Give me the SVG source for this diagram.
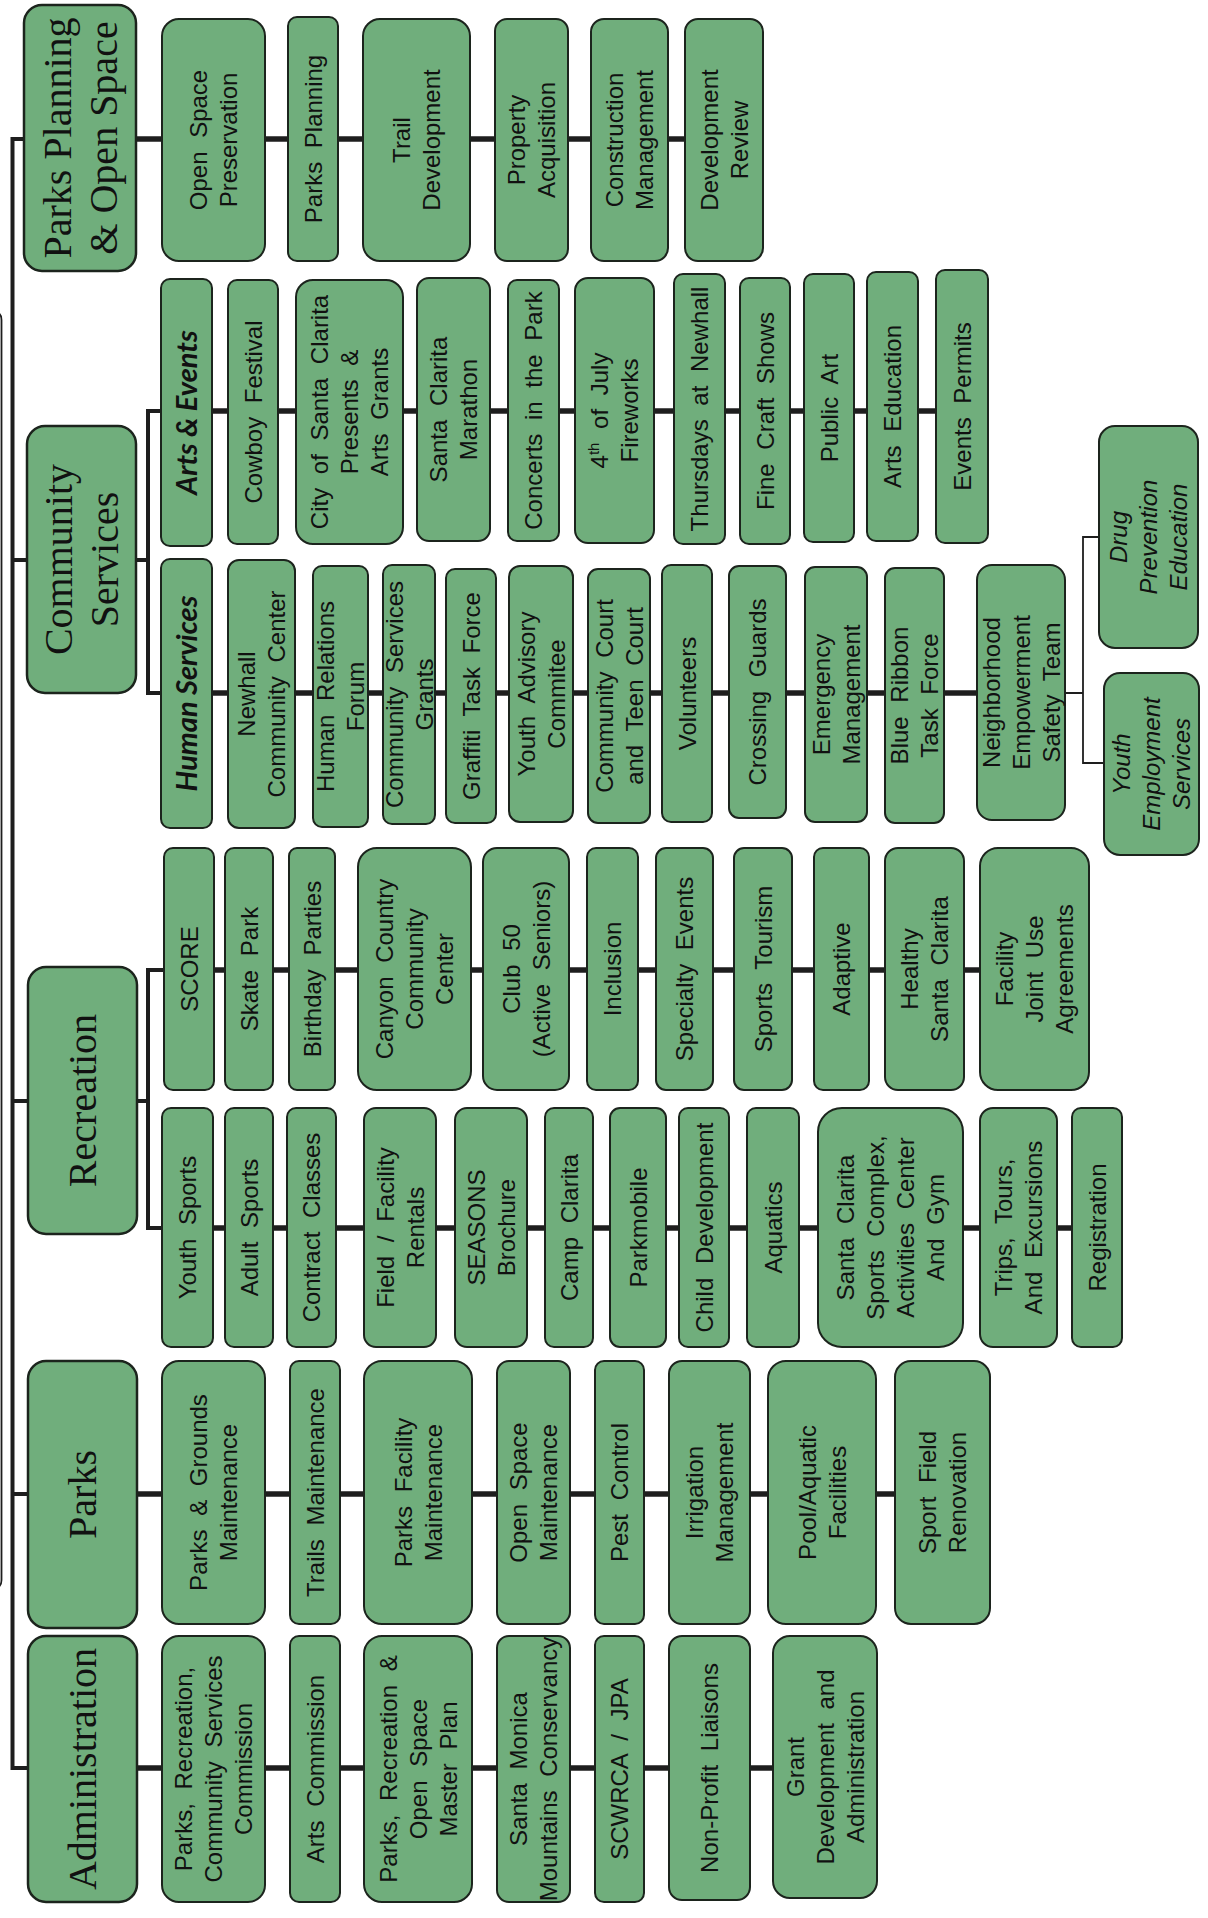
<svg xmlns="http://www.w3.org/2000/svg" width="1208" height="1918" viewBox="0 0 1208 1918">
<style>
.b{fill:#70ae7c;stroke:#1c241d;stroke-width:2}
.B{fill:#70ae7c;stroke:#1c241d;stroke-width:2.5}
.t{font-family:"Liberation Sans",Arial,sans-serif;font-size:24px;fill:#111;text-anchor:middle;word-spacing:7px}
.i{font-style:italic}
.h{font-family:"Liberation Serif","Times New Roman",serif;font-size:40px;fill:#111;text-anchor:middle}
.s{font-family:Lato,"Open Sans",sans-serif;font-style:italic;font-weight:700;font-size:29px;fill:#111;text-anchor:middle}
.c{fill:none;stroke:#1e1e1e;stroke-width:5.5}
.k{fill:none;stroke:#1e1e1e;stroke-width:4}
.n{fill:none;stroke:#1e1e1e;stroke-width:1.8}
</style>
<rect width="1208" height="1918" fill="#ffffff"/>
<path class="n" d="M -6 312 Q 1.5 312 1.5 320 L 1.5 1580 Q 1.5 1588 -6 1588"/>
<g id="connectors">
<path class="k" d="M 26 139 H 12.5 V 1768 H 28"/>
<path class="k" d="M 12.5 560 H 27 M 12.5 1101 H 28 M 12.5 1494 H 28"/>
<path class="k" d="M 136 560 H 148 M 161 411 H 148 V 693 H 161"/>
<path class="k" d="M 137 1101 H 148 M 164 970 H 148 V 1228 H 162"/>
<path class="c" d="M 136 139 H 685"/>
<path class="c" d="M 212 411 H 936"/>
<path class="c" d="M 212 693 H 977"/>
<path class="c" d="M 214 970 H 980"/>
<path class="c" d="M 213 1228 H 1072"/>
<path class="c" d="M 137 1494 H 895"/>
<path class="c" d="M 137 1768 H 773"/>
<path class="n" d="M 1065 693 H 1083 M 1099 537 H 1083 V 763 H 1104"/>
</g>

<!-- Parks Planning & Open Space -->
<g id="pp"><rect class="B" x="24" y="5" width="112" height="266" rx="18"/><text class="h" transform="translate(80 138) rotate(-90)"><tspan x="0" y="-9.5">Parks Planning</tspan><tspan x="0" y="36.5">&amp; Open Space</tspan></text></g>
<g id="pp1"><rect class="b" x="162" y="19" width="103" height="242" rx="17"/><text class="t" transform="translate(213.5 140) rotate(-90)"><tspan x="0" y="-6.5">Open Space</tspan><tspan x="0" y="23.5">Preservation</tspan></text></g>
<g id="pp2"><rect class="b" x="288" y="17" width="50" height="244" rx="9"/><text class="t" transform="translate(313 139) rotate(-90)"><tspan x="0" y="8.5">Parks Planning</tspan></text></g>
<g id="pp3"><rect class="b" x="363" y="19" width="107" height="242" rx="17"/><text class="t" transform="translate(416.5 140) rotate(-90)"><tspan x="0" y="-6.5">Trail</tspan><tspan x="0" y="23.5">Development</tspan></text></g>
<g id="pp4"><rect class="b" x="495" y="19" width="73" height="242" rx="12"/><text class="t" transform="translate(531.5 140) rotate(-90)"><tspan x="0" y="-6.5">Property</tspan><tspan x="0" y="23.5">Acquisition</tspan></text></g>
<g id="pp5"><rect class="b" x="591" y="19" width="77" height="242" rx="13"/><text class="t" transform="translate(629.5 140) rotate(-90)"><tspan x="0" y="-6.5">Construction</tspan><tspan x="0" y="23.5">Management</tspan></text></g>
<g id="pp6"><rect class="b" x="685" y="19" width="78" height="242" rx="13"/><text class="t" transform="translate(724 140) rotate(-90)"><tspan x="0" y="-6.5">Development</tspan><tspan x="0" y="23.5">Review</tspan></text></g>

<!-- Community Services -->
<g id="cs"><rect class="B" x="27" y="426" width="109" height="267" rx="18"/><text class="h" transform="translate(81.5 559.5) rotate(-90)"><tspan x="0" y="-9.5">Community</tspan><tspan x="0" y="36.5">Services</tspan></text></g>
<g id="ae"><rect class="b" x="161" y="279" width="51" height="267" rx="9"/><text class="s" transform="translate(186.5 412.5) rotate(-90)"><tspan x="0" y="10.5">Arts &amp; Events</tspan></text></g>
<g id="ae1"><rect class="b" x="228" y="280" width="50" height="264" rx="9"/><text class="t" transform="translate(253 412) rotate(-90)"><tspan x="0" y="8.5">Cowboy Festival</tspan></text></g>
<g id="ae2"><rect class="b" x="296" y="280" width="107" height="264" rx="17"/><text class="t" transform="translate(349.5 412) rotate(-90)"><tspan x="0" y="-21.5">City of Santa Clarita</tspan><tspan x="0" y="8.5">Presents &amp;</tspan><tspan x="0" y="38.5">Arts Grants</tspan></text></g>
<g id="ae3"><rect class="b" x="417" y="278" width="73" height="263" rx="12"/><text class="t" transform="translate(453.5 409.5) rotate(-90)"><tspan x="0" y="-6.5">Santa Clarita</tspan><tspan x="0" y="23.5">Marathon</tspan></text></g>
<g id="ae4"><rect class="b" x="508" y="280" width="51" height="261" rx="9"/><text class="t" transform="translate(533.5 410.5) rotate(-90)"><tspan x="0" y="8.5">Concerts in the Park</tspan></text></g>
<g id="ae5"><rect class="b" x="575" y="278" width="79" height="265" rx="13"/><text class="t" transform="translate(614.5 410.5) rotate(-90)"><tspan x="0" y="-6.5">4<tspan dy="-9" font-size="15">th</tspan><tspan dy="9"> of July</tspan></tspan><tspan x="0" y="23.5">Fireworks</tspan></text></g>
<g id="ae6"><rect class="b" x="674" y="274" width="51" height="270" rx="9"/><text class="t" transform="translate(699.5 409) rotate(-90)"><tspan x="0" y="8.5">Thursdays at Newhall</tspan></text></g>
<g id="ae7"><rect class="b" x="740" y="278" width="50" height="266" rx="9"/><text class="t" transform="translate(765 411) rotate(-90)"><tspan x="0" y="8.5">Fine Craft Shows</tspan></text></g>
<g id="ae8"><rect class="b" x="804" y="274" width="50" height="268" rx="9"/><text class="t" transform="translate(829 408) rotate(-90)"><tspan x="0" y="8.5">Public Art</tspan></text></g>
<g id="ae9"><rect class="b" x="867" y="272" width="51" height="269" rx="9"/><text class="t" transform="translate(892.5 406.5) rotate(-90)"><tspan x="0" y="8.5">Arts Education</tspan></text></g>
<g id="ae10"><rect class="b" x="936" y="270" width="52" height="273" rx="9"/><text class="t" transform="translate(962 406.5) rotate(-90)"><tspan x="0" y="8.5">Events Permits</tspan></text></g>

<g id="hs"><rect class="b" x="161" y="559" width="51" height="269" rx="9"/><text class="s" transform="translate(186.5 693.5) rotate(-90)"><tspan x="0" y="10.5">Human Services</tspan></text></g>
<g id="hs1"><rect class="b" x="228" y="560" width="67" height="268" rx="11"/><text class="t" transform="translate(261.5 694) rotate(-90)"><tspan x="0" y="-6.5">Newhall</tspan><tspan x="0" y="23.5">Community Center</tspan></text></g>
<g id="hs2"><rect class="b" x="313" y="566" width="55" height="261" rx="9"/><text class="t" transform="translate(340.5 696.5) rotate(-90)"><tspan x="0" y="-6.5">Human Relations</tspan><tspan x="0" y="23.5">Forum</tspan></text></g>
<g id="hs3"><rect class="b" x="383" y="565" width="52" height="259" rx="9"/><text class="t" transform="translate(409 694.5) rotate(-90)"><tspan x="0" y="-6.5">Community Services</tspan><tspan x="0" y="23.5">Grants</tspan></text></g>
<g id="hs4"><rect class="b" x="446" y="569" width="50" height="254" rx="9"/><text class="t" transform="translate(471 696) rotate(-90)"><tspan x="0" y="8.5">Graffiti Task Force</tspan></text></g>
<g id="hs5"><rect class="b" x="509" y="566" width="64" height="256" rx="11"/><text class="t" transform="translate(541 694) rotate(-90)"><tspan x="0" y="-6.5">Youth Advisory</tspan><tspan x="0" y="23.5">Commitee</tspan></text></g>
<g id="hs6"><rect class="b" x="588" y="569" width="62" height="254" rx="10"/><text class="t" transform="translate(619 696) rotate(-90)"><tspan x="0" y="-6.5">Community Court</tspan><tspan x="0" y="23.5">and Teen Court</tspan></text></g>
<g id="hs7"><rect class="b" x="662" y="565" width="50" height="257" rx="9"/><text class="t" transform="translate(687 693.5) rotate(-90)"><tspan x="0" y="8.5">Volunteers</tspan></text></g>
<g id="hs8"><rect class="b" x="729" y="566" width="57" height="252" rx="10"/><text class="t" transform="translate(757.5 692) rotate(-90)"><tspan x="0" y="8.5">Crossing Guards</tspan></text></g>
<g id="hs9"><rect class="b" x="805" y="567" width="62" height="255" rx="10"/><text class="t" transform="translate(836 694.5) rotate(-90)"><tspan x="0" y="-6.5">Emergency</tspan><tspan x="0" y="23.5">Management</tspan></text></g>
<g id="hs10"><rect class="b" x="885" y="568" width="59" height="255" rx="10"/><text class="t" transform="translate(914.5 695.5) rotate(-90)"><tspan x="0" y="-6.5">Blue Ribbon</tspan><tspan x="0" y="23.5">Task Force</tspan></text></g>
<g id="hs11"><rect class="b" x="977" y="565" width="88" height="255" rx="15"/><text class="t" transform="translate(1021 692.5) rotate(-90)"><tspan x="0" y="-21.5">Neighborhood</tspan><tspan x="0" y="8.5">Empowerment</tspan><tspan x="0" y="38.5">Safety Team</tspan></text></g>
<g id="hs12"><rect class="b" x="1099" y="426" width="99" height="222" rx="16"/><text class="t i" transform="translate(1148.5 537) rotate(-90)"><tspan x="0" y="-21.5">Drug</tspan><tspan x="0" y="8.5">Prevention</tspan><tspan x="0" y="38.5">Education</tspan></text></g>
<g id="hs13"><rect class="b" x="1104" y="673" width="95" height="182" rx="16"/><text class="t i" transform="translate(1151.5 764) rotate(-90)"><tspan x="0" y="-21.5">Youth</tspan><tspan x="0" y="8.5">Employment</tspan><tspan x="0" y="38.5">Services</tspan></text></g>

<!-- Recreation -->
<g id="rec"><rect class="B" x="28" y="967" width="109" height="267" rx="18"/><text class="h" transform="translate(82.5 1100.5) rotate(-90)"><tspan x="0" y="13">Recreation</tspan></text></g>
<g id="r1"><rect class="b" x="164" y="848" width="50" height="242" rx="9"/><text class="t" transform="translate(189 969) rotate(-90)"><tspan x="0" y="8.5">SCORE</tspan></text></g>
<g id="r2"><rect class="b" x="225" y="848" width="48" height="242" rx="9"/><text class="t" transform="translate(249 969) rotate(-90)"><tspan x="0" y="8.5">Skate Park</tspan></text></g>
<g id="r3"><rect class="b" x="289" y="848" width="46" height="242" rx="8"/><text class="t" transform="translate(312 969) rotate(-90)"><tspan x="0" y="8.5">Birthday Parties</tspan></text></g>
<g id="r4"><rect class="b" x="358" y="848" width="113" height="242" rx="19"/><text class="t" transform="translate(414.5 969) rotate(-90)"><tspan x="0" y="-21.5">Canyon Country</tspan><tspan x="0" y="8.5">Community</tspan><tspan x="0" y="38.5">Center</tspan></text></g>
<g id="r5"><rect class="b" x="483" y="848" width="86" height="242" rx="14"/><text class="t" transform="translate(526 969) rotate(-90)"><tspan x="0" y="-6.5">Club 50</tspan><tspan x="0" y="23.5">(Active Seniors)</tspan></text></g>
<g id="r6"><rect class="b" x="587" y="848" width="51" height="242" rx="9"/><text class="t" transform="translate(612.5 969) rotate(-90)"><tspan x="0" y="8.5">Inclusion</tspan></text></g>
<g id="r7"><rect class="b" x="656" y="848" width="57" height="242" rx="10"/><text class="t" transform="translate(684.5 969) rotate(-90)"><tspan x="0" y="8.5">Specialty Events</tspan></text></g>
<g id="r8"><rect class="b" x="734" y="848" width="58" height="242" rx="10"/><text class="t" transform="translate(763 969) rotate(-90)"><tspan x="0" y="8.5">Sports Tourism</tspan></text></g>
<g id="r9"><rect class="b" x="814" y="848" width="55" height="242" rx="9"/><text class="t" transform="translate(841.5 969) rotate(-90)"><tspan x="0" y="8.5">Adaptive</tspan></text></g>
<g id="r10"><rect class="b" x="885" y="848" width="79" height="242" rx="13"/><text class="t" transform="translate(924.5 969) rotate(-90)"><tspan x="0" y="-6.5">Healthy</tspan><tspan x="0" y="23.5">Santa Clarita</tspan></text></g>
<g id="r11"><rect class="b" x="980" y="848" width="109" height="242" rx="18"/><text class="t" transform="translate(1034.5 969) rotate(-90)"><tspan x="0" y="-21.5">Facility</tspan><tspan x="0" y="8.5">Joint Use</tspan><tspan x="0" y="38.5">Agreements</tspan></text></g>

<g id="y1"><rect class="b" x="162" y="1108" width="51" height="239" rx="9"/><text class="t" transform="translate(187.5 1227.5) rotate(-90)"><tspan x="0" y="8.5">Youth Sports</tspan></text></g>
<g id="y2"><rect class="b" x="225" y="1108" width="48" height="239" rx="9"/><text class="t" transform="translate(249 1227.5) rotate(-90)"><tspan x="0" y="8.5">Adult Sports</tspan></text></g>
<g id="y3"><rect class="b" x="287" y="1108" width="49" height="239" rx="9"/><text class="t" transform="translate(311.5 1227.5) rotate(-90)"><tspan x="0" y="8.5">Contract Classes</tspan></text></g>
<g id="y4"><rect class="b" x="364" y="1108" width="72" height="239" rx="12"/><text class="t" transform="translate(400 1227.5) rotate(-90)"><tspan x="0" y="-6.5">Field / Facility</tspan><tspan x="0" y="23.5">Rentals</tspan></text></g>
<g id="y5"><rect class="b" x="455" y="1108" width="72" height="239" rx="12"/><text class="t" transform="translate(491 1227.5) rotate(-90)"><tspan x="0" y="-6.5">SEASONS</tspan><tspan x="0" y="23.5">Brochure</tspan></text></g>
<g id="y6"><rect class="b" x="545" y="1108" width="48" height="239" rx="9"/><text class="t" transform="translate(569 1227.5) rotate(-90)"><tspan x="0" y="8.5">Camp Clarita</tspan></text></g>
<g id="y7"><rect class="b" x="610" y="1108" width="56" height="239" rx="10"/><text class="t" transform="translate(638 1227.5) rotate(-90)"><tspan x="0" y="8.5">Parkmobile</tspan></text></g>
<g id="y8"><rect class="b" x="679" y="1108" width="50" height="239" rx="9"/><text class="t" transform="translate(704 1227.5) rotate(-90)"><tspan x="0" y="8.5">Child Development</tspan></text></g>
<g id="y9"><rect class="b" x="747" y="1108" width="52" height="239" rx="9"/><text class="t" transform="translate(773 1227.5) rotate(-90)"><tspan x="0" y="8.5">Aquatics</tspan></text></g>
<g id="y10"><rect class="b" x="818" y="1108" width="145" height="239" rx="24"/><text class="t" transform="translate(890.5 1227.5) rotate(-90)"><tspan x="0" y="-36.5">Santa Clarita</tspan><tspan x="0" y="-6.5">Sports Complex,</tspan><tspan x="0" y="23.5">Activities Center</tspan><tspan x="0" y="53.5">And Gym</tspan></text></g>
<g id="y11"><rect class="b" x="980" y="1108" width="77" height="239" rx="13"/><text class="t" transform="translate(1018.5 1227.5) rotate(-90)"><tspan x="0" y="-6.5">Trips, Tours,</tspan><tspan x="0" y="23.5">And Excursions</tspan></text></g>
<g id="y12"><rect class="b" x="1072" y="1108" width="50" height="239" rx="9"/><text class="t" transform="translate(1097 1227.5) rotate(-90)"><tspan x="0" y="8.5">Registration</tspan></text></g>

<!-- Parks -->
<g id="parks"><rect class="B" x="28" y="1361" width="109" height="267" rx="18"/><text class="h" transform="translate(82.5 1494.5) rotate(-90)"><tspan x="0" y="13">Parks</tspan></text></g>
<g id="p1"><rect class="b" x="162" y="1361" width="103" height="263" rx="17"/><text class="t" transform="translate(213.5 1492.5) rotate(-90)"><tspan x="0" y="-6.5">Parks &amp; Grounds</tspan><tspan x="0" y="23.5">Maintenance</tspan></text></g>
<g id="p2"><rect class="b" x="290" y="1361" width="50" height="263" rx="9"/><text class="t" transform="translate(315 1492.5) rotate(-90)"><tspan x="0" y="8.5">Trails Maintenance</tspan></text></g>
<g id="p3"><rect class="b" x="364" y="1361" width="108" height="263" rx="18"/><text class="t" transform="translate(418 1492.5) rotate(-90)"><tspan x="0" y="-6.5">Parks Facility</tspan><tspan x="0" y="23.5">Maintenance</tspan></text></g>
<g id="p4"><rect class="b" x="497" y="1361" width="73" height="263" rx="12"/><text class="t" transform="translate(533.5 1492.5) rotate(-90)"><tspan x="0" y="-6.5">Open Space</tspan><tspan x="0" y="23.5">Maintenance</tspan></text></g>
<g id="p5"><rect class="b" x="595" y="1361" width="49" height="263" rx="9"/><text class="t" transform="translate(619.5 1492.5) rotate(-90)"><tspan x="0" y="8.5">Pest Control</tspan></text></g>
<g id="p6"><rect class="b" x="669" y="1361" width="81" height="263" rx="13"/><text class="t" transform="translate(709.5 1492.5) rotate(-90)"><tspan x="0" y="-6.5">Irrigation</tspan><tspan x="0" y="23.5">Management</tspan></text></g>
<g id="p7"><rect class="b" x="768" y="1361" width="108" height="263" rx="18"/><text class="t" transform="translate(822 1492.5) rotate(-90)"><tspan x="0" y="-6.5">Pool/Aquatic</tspan><tspan x="0" y="23.5">Facilities</tspan></text></g>
<g id="p8"><rect class="b" x="895" y="1361" width="95" height="263" rx="16"/><text class="t" transform="translate(942.5 1492.5) rotate(-90)"><tspan x="0" y="-6.5">Sport Field</tspan><tspan x="0" y="23.5">Renovation</tspan></text></g>

<!-- Administration -->
<g id="admin"><rect class="B" x="28" y="1636" width="109" height="266" rx="18"/><text class="h" transform="translate(82.5 1769) rotate(-90)"><tspan x="0" y="13">Administration</tspan></text></g>
<g id="a1"><rect class="b" x="162" y="1636" width="103" height="266" rx="17"/><text class="t" transform="translate(213.5 1769) rotate(-90)"><tspan x="0" y="-21.5">Parks, Recreation,</tspan><tspan x="0" y="8.5">Community Services</tspan><tspan x="0" y="38.5">Commission</tspan></text></g>
<g id="a2"><rect class="b" x="290" y="1636" width="50" height="266" rx="9"/><text class="t" transform="translate(315 1769) rotate(-90)"><tspan x="0" y="8.5">Arts Commission</tspan></text></g>
<g id="a3"><rect class="b" x="364" y="1636" width="108" height="266" rx="18"/><text class="t" transform="translate(418 1769) rotate(-90)"><tspan x="0" y="-21.5">Parks, Recreation &amp;</tspan><tspan x="0" y="8.5">Open Space</tspan><tspan x="0" y="38.5">Master Plan</tspan></text></g>
<g id="a4"><rect class="b" x="497" y="1636" width="73" height="266" rx="12"/><text class="t" transform="translate(533.5 1769) rotate(-90)"><tspan x="0" y="-6.5">Santa Monica</tspan><tspan x="0" y="23.5">Mountains Conservancy</tspan></text></g>
<g id="a5"><rect class="b" x="595" y="1636" width="49" height="266" rx="9"/><text class="t" transform="translate(619.5 1769) rotate(-90)"><tspan x="0" y="8.5">SCWRCA / JPA</tspan></text></g>
<g id="a6"><rect class="b" x="669" y="1636" width="81" height="264" rx="13"/><text class="t" transform="translate(709.5 1768) rotate(-90)"><tspan x="0" y="8.5">Non-Profit Liaisons</tspan></text></g>
<g id="a7"><rect class="b" x="773" y="1636" width="104" height="262" rx="17"/><text class="t" transform="translate(825 1767) rotate(-90)"><tspan x="0" y="-21.5">Grant</tspan><tspan x="0" y="8.5">Development and</tspan><tspan x="0" y="38.5">Administration</tspan></text></g>
</svg>
